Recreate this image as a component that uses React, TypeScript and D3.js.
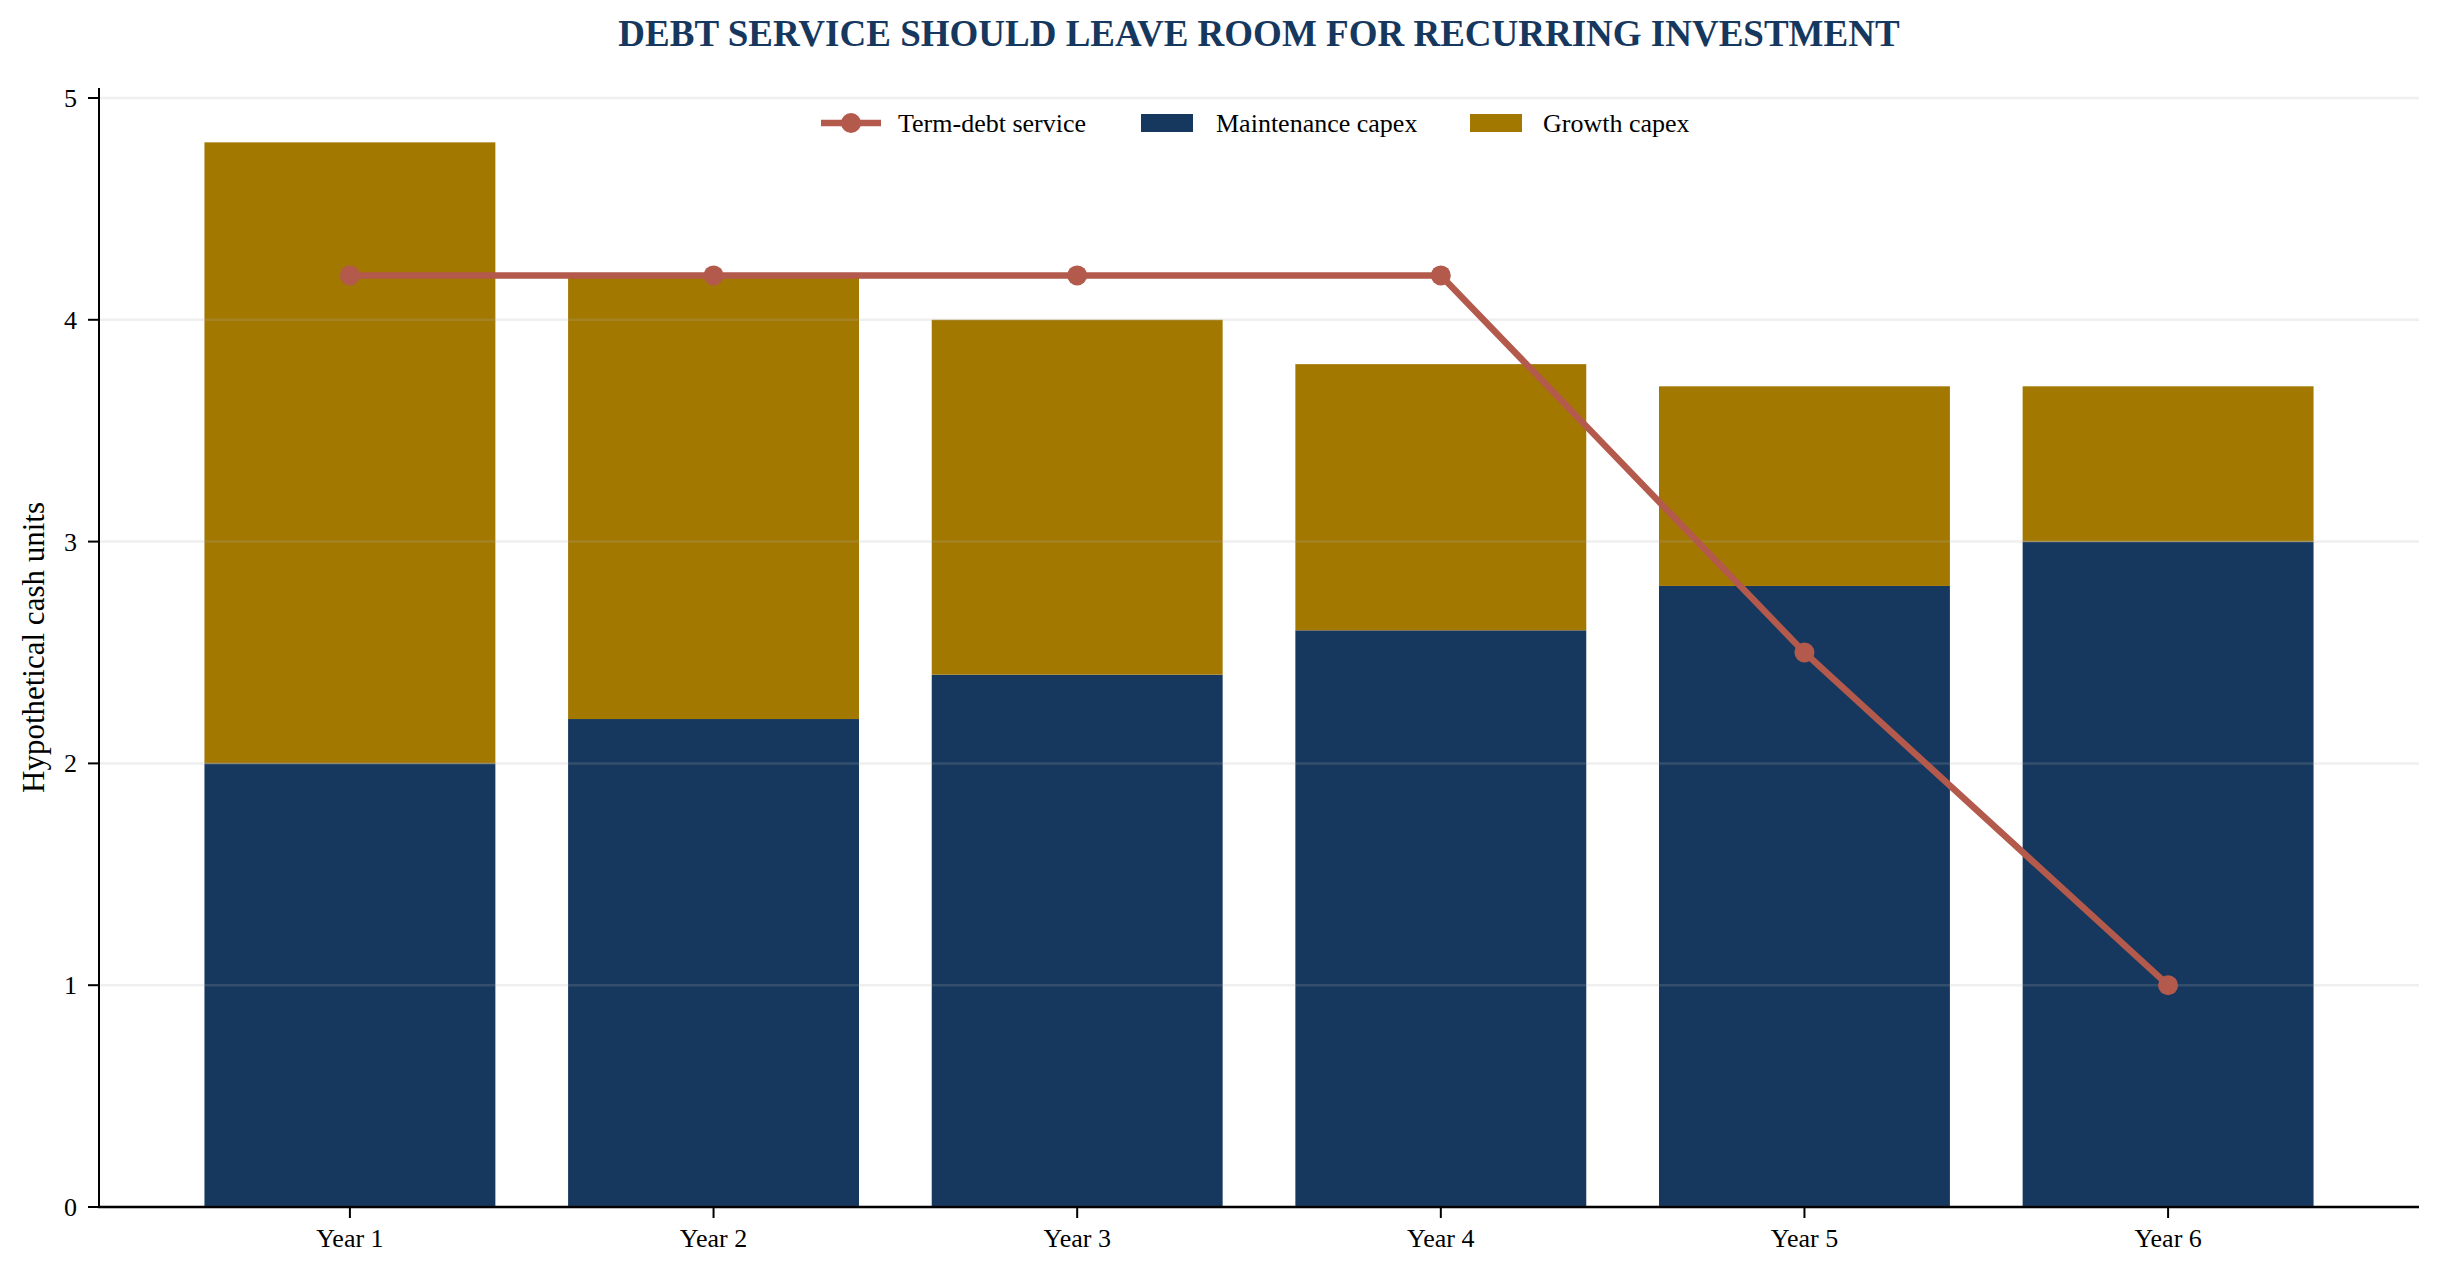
import { useEffect } from "react";
import * as d3 from "d3";

const years = ["Year 1", "Year 2", "Year 3", "Year 4", "Year 5", "Year 6"];
const maintenanceCapex = [2.0, 2.2, 2.4, 2.6, 2.8, 3.0];
const growthCapex = [2.8, 2.0, 1.6, 1.2, 0.9, 0.7];
const termDebtService = [4.2, 4.2, 4.2, 4.2, 2.5, 1.0];

const WIDTH = 2441;
const HEIGHT = 1275;
const margin = { top: 88, right: 22, bottom: 68, left: 99 };

const NAVY = "#16385e";
const GOLD = "#a37800";
const RED = "#b35a4c";
const FONT = "'Liberation Serif', 'Times New Roman', serif";

export default function App() {
  useEffect(() => {
    document.body.style.margin = "0";
  }, []);

  const x = d3
    .scaleBand<string>()
    .domain(years)
    .range([margin.left, WIDTH - margin.right])
    .paddingInner(0.2)
    .paddingOuter(0.29);

  const y = d3
    .scaleLinear()
    .domain([0, 5.045])
    .range([HEIGHT - margin.bottom, margin.top]);

  const cx = (d: string) => (x(d) ?? 0) + x.bandwidth() / 2;

  const line = d3
    .line<number>()
    .x((_, i) => cx(years[i]))
    .y((d) => y(d));

  const yTicks = y.ticks(5);
  const centerX = (margin.left + WIDTH - margin.right) / 2;
  const legendY = 123;

  return (
    <svg width={WIDTH} height={HEIGHT} style={{ display: "block", fontFamily: FONT }}>
      <rect width={WIDTH} height={HEIGHT} fill="#ffffff" />

      <text
        x={centerX}
        y={46}
        textAnchor="middle"
        fontSize={37}
        fontWeight="bold"
        fill={NAVY}
      >
        DEBT SERVICE SHOULD LEAVE ROOM FOR RECURRING INVESTMENT
      </text>

      {/* stacked bars */}
      {years.map((yr, i) => (
        <g key={yr}>
          <rect
            x={x(yr)}
            width={x.bandwidth()}
            y={y(maintenanceCapex[i])}
            height={y(0) - y(maintenanceCapex[i])}
            fill={NAVY}
          />
          <rect
            x={x(yr)}
            width={x.bandwidth()}
            y={y(maintenanceCapex[i] + growthCapex[i])}
            height={y(maintenanceCapex[i]) - y(maintenanceCapex[i] + growthCapex[i])}
            fill={GOLD}
          />
        </g>
      ))}

      {/* grid over bars */}
      {yTicks.map((t) => (
        <line
          key={t}
          x1={margin.left}
          x2={WIDTH - margin.right}
          y1={y(t)}
          y2={y(t)}
          stroke="#b0b0b0"
          strokeOpacity={0.2}
          strokeWidth={2.5}
        />
      ))}

      {/* debt service line */}
      <path d={line(termDebtService) ?? ""} fill="none" stroke={RED} strokeWidth={6.5} />
      {termDebtService.map((v, i) => (
        <circle key={i} cx={cx(years[i])} cy={y(v)} r={10} fill={RED} />
      ))}

      {/* axes */}
      <line
        x1={margin.left}
        x2={margin.left}
        y1={margin.top}
        y2={HEIGHT - margin.bottom}
        stroke="#000"
        strokeWidth={2}
      />
      <line
        x1={margin.left - 1}
        x2={WIDTH - margin.right}
        y1={HEIGHT - margin.bottom}
        y2={HEIGHT - margin.bottom}
        stroke="#000"
        strokeWidth={2.6}
      />
      {yTicks.map((t) => (
        <g key={t}>
          <line x1={margin.left - 11} x2={margin.left} y1={y(t)} y2={y(t)} stroke="#000" strokeWidth={2} />
          <text x={margin.left - 22} y={y(t)} dy="0.35em" textAnchor="end" fontSize={26}>
            {t}
          </text>
        </g>
      ))}
      {years.map((yr) => (
        <g key={yr}>
          <line
            x1={cx(yr)}
            x2={cx(yr)}
            y1={HEIGHT - margin.bottom}
            y2={HEIGHT - margin.bottom + 11}
            stroke="#000"
            strokeWidth={2}
          />
          <text x={cx(yr)} y={1247} textAnchor="middle" fontSize={26}>
            {yr}
          </text>
        </g>
      ))}
      <text
        transform={`translate(33, ${(margin.top + HEIGHT - margin.bottom) / 2}) rotate(-90)`}
        textAnchor="middle"
        dy="0.35em"
        fontSize={31}
      >
        Hypothetical cash units
      </text>

      {/* legend */}
      <g transform={`translate(0, ${legendY})`}>
        <line x1={821} x2={881} y1={0} y2={0} stroke={RED} strokeWidth={6.5} />
        <circle cx={851} cy={0} r={10} fill={RED} />
        <text x={898} y={0} dy="0.33em" fontSize={26}>
          Term-debt service
        </text>
        <rect x={1141} y={-9} width={52} height={18} fill={NAVY} />
        <text x={1216} y={0} dy="0.33em" fontSize={26}>
          Maintenance capex
        </text>
        <rect x={1470} y={-9} width={52} height={18} fill={GOLD} />
        <text x={1543} y={0} dy="0.33em" fontSize={26}>
          Growth capex
        </text>
      </g>
    </svg>
  );
}
